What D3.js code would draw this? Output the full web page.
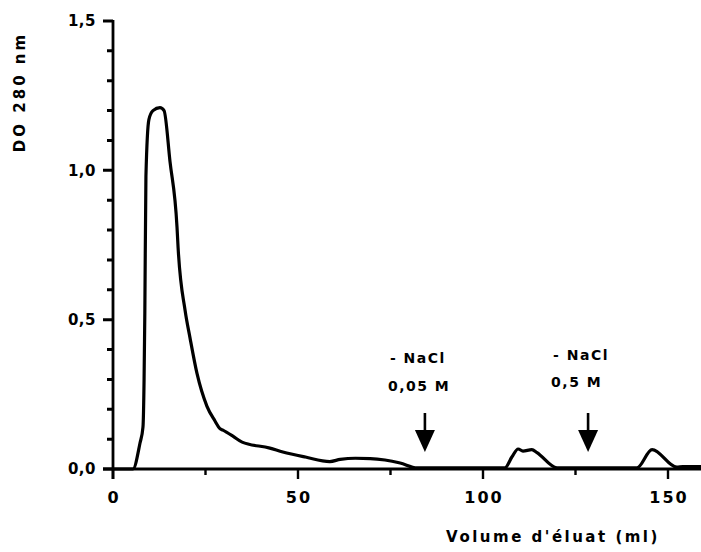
<!DOCTYPE html>
<html>
<head>
<meta charset="utf-8">
<script src="https://cdn.jsdelivr.net/npm/d3@7"></script>
<style>
html,body{margin:0;padding:0;background:#fff;}
svg{display:block;}
text{font-family:"DejaVu Sans",sans-serif;fill:#000;font-weight:bold;}
</style>
</head>
<body>
<svg id="chart" width="701" height="552"></svg>
<script>
// Elution volume (ml)
const volume = [0, 5.4, 7.3, 8.1, 8.4, 8.6, 8.9, 9.7, 10.8, 12.7, 13.8, 15.4, 17.3, 17.6, 19.5, 20.8, 22.7, 25.4, 27.6, 28.9, 29.7, 32.4, 34.9, 42.4, 45.9, 52, 58.6, 61.4, 65.5, 69.5, 73.5, 77.6, 82.2, 95, 105.9, 107.8, 109.5, 110.8, 113.2, 114.6, 120, 130, 141.6, 145.7, 152.4, 154, 160];
// Absorbance DO 280 nm
const absorbance = [0, 0, 0.087, 0.14, 0.30, 0.52, 0.98, 1.17, 1.20, 1.21, 1.20, 1.03, 0.81, 0.74, 0.53, 0.44, 0.32, 0.21, 0.16, 0.135, 0.13, 0.11, 0.09, 0.07, 0.057, 0.04, 0.025, 0.032, 0.036, 0.035, 0.03, 0.02, 0.004, 0.004, 0.004, 0.04, 0.067, 0.06, 0.065, 0.055, 0.004, 0.004, 0.004, 0.065, 0.006, 0.008, 0.008];

const yTickValues = [0, 0.5, 1.0, 1.5];
const yTickLabels = ["0,0", "0,5", "1,0", "1,5"];
const yMinorTicks = [0.1, 0.2, 0.3, 0.4, 0.6, 0.7, 0.8, 0.9, 1.1, 1.2, 1.3, 1.4];
const xTickValues = [0, 50, 100, 150];
const xTickLabels = ["0", "50", "100", "150"];
const xMinorTicks = [25, 75, 125];

// Salt step annotations
const stepVolumes = [84.3, 128.4];
const stepLine1 = ["- NaCl", "- NaCl"];
const stepLine2 = ["0,05 M", "0,5 M"];

const yTitle = "DO 280 nm";
const xTitle = "Volume d'éluat (ml)";

const svg = d3.select("#chart");
const x = d3.scaleLinear().domain([0, 160]).range([113, 705]);
const y = d3.scaleLinear().domain([0, 1.5]).range([469, 21]);

const line = d3.line().x((d,i)=>x(volume[i])).y((d,i)=>y(absorbance[i])).curve(d3.curveMonotoneX);

// Y axis with ticks
const yTickPath = yTickValues.map(d => `M${x(0)-10},${y(d)}H${x(0)}`).join("") +
                  yMinorTicks.map(d => `M${x(0)-6},${y(d)}H${x(0)}`).join("");
svg.append("path").attr("d", yTickPath).attr("stroke", "#000").attr("stroke-width", 3).attr("fill", "none");
svg.append("path").attr("d", `M${x(0)},${y(1.5)-1}V${y(0)+10}`).attr("stroke", "#000").attr("stroke-width", 2.8).attr("fill", "none");
svg.append("g").selectAll("text").data(yTickValues).enter().append("text")
  .attr("x", 96).attr("y", d => y(d)).attr("dy", "0.36em")
  .attr("text-anchor", "end").attr("font-size", 15).attr("letter-spacing", 0.5)
  .text((d,i) => yTickLabels[i]);

// X axis
const xTickPath = xTickValues.map(d => `M${x(d)},${y(0)}V${y(0)+10}`).join("") +
                  xMinorTicks.map(d => `M${x(d)},${y(0)}V${y(0)+6}`).join("");
svg.append("path").attr("d", xTickPath).attr("stroke", "#000").attr("stroke-width", 2.4).attr("fill", "none");
svg.append("path").attr("d", `M${x(0)-10},${y(0)}H701`).attr("stroke", "#000").attr("stroke-width", 2.8).attr("fill", "none");
svg.append("g").selectAll("text").data(xTickValues).enter().append("text")
  .attr("x", d => x(d) + 1).attr("y", 503)
  .attr("text-anchor", "middle").attr("font-size", 16).attr("letter-spacing", 2)
  .text((d,i) => xTickLabels[i]);

// Data line
svg.append("path").datum(absorbance).attr("d", line)
  .attr("fill", "none").attr("stroke", "#000").attr("stroke-width", 3.2)
  .attr("stroke-linejoin", "round");

// Annotations
stepVolumes.forEach((v, i) => {
  const cx = x(v);
  svg.append("text").attr("x", cx - 35).attr("y", i === 0 ? 363 : 360)
    .attr("font-size", 14).attr("letter-spacing", 1.5).text(stepLine1[i]);
  svg.append("text").attr("x", cx - 37).attr("y", i === 0 ? 391 : 387)
    .attr("font-size", 14).attr("letter-spacing", 1.5).text(stepLine2[i]);
  svg.append("line").attr("x1", cx).attr("x2", cx).attr("y1", 413).attr("y2", 436)
    .attr("stroke", "#000").attr("stroke-width", 2.6);
  svg.append("path")
    .attr("d", `M${cx-10},430 L${cx+10},430 L${cx},452 Z`)
    .attr("fill", "#000");
});

// Titles
svg.append("text").attr("transform", "translate(25,92) rotate(-90)")
  .attr("text-anchor", "middle").attr("font-size", 15).attr("letter-spacing", 3)
  .text(yTitle);
svg.append("text").attr("x", 553).attr("y", 542)
  .attr("text-anchor", "middle").attr("font-size", 15).attr("letter-spacing", 2.5)
  .text(xTitle);
</script>
</body>
</html>
